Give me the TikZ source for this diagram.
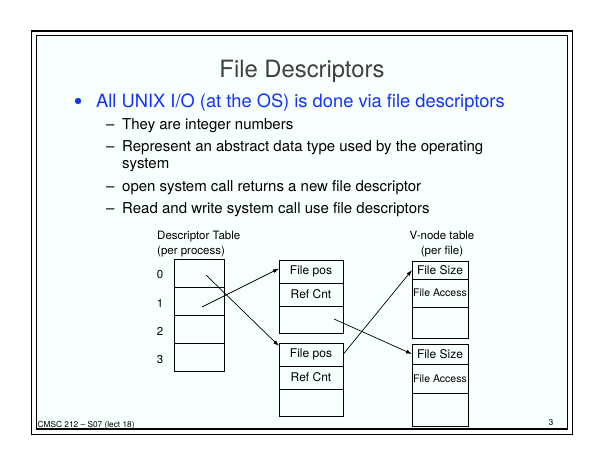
\documentclass[tikz,border=0pt]{standalone}
\usepackage{fontspec}
\setmainfont{TeX Gyre Heros}
\usetikzlibrary{positioning,arrows.meta}
\definecolor{slidebg}{RGB}{248,255,255}
\definecolor{bulletblue}{RGB}{20,50,255}
\definecolor{titlegray}{RGB}{64,64,64}
\newcommand{\fs}[1]{\fontsize{#1}{1.2\dimexpr#1pt\relax}\selectfont}

\begin{document}
\begin{tikzpicture}[x=1pt,y=-1pt,
	cell/.style={draw, line width=0.8pt, inner sep=0pt, outer sep=0pt, font=\fs{12}},
	dcell/.style={cell, minimum width=50, minimum height=28},
	fcell/.style={cell, minimum width=64},
	vcell/.style={cell, minimum width=56},
	ptr/.style={-{Latex[length=6pt,width=4pt]}, line width=0.7pt},
	sub/.style={anchor=base west, inner sep=0pt, font=\fs{15}}]
	\useasboundingbox (0,0) rectangle (605,467);
	% slide frame
	\fill[slidebg] (36.5,35.5) rectangle (567.5,429);
	\draw[line width=1.3pt] (31.5,31) rectangle (572.5,434.5);
	\draw[line width=1.3pt] (36.5,35.5) rectangle (567.5,429);
	% title and text
	\node[titlegray, font=\fs{23.8}, anchor=base] (title) at (302,77) {File Descriptors};
	\fill[bulletblue] (78,101) circle (3.2);
	\node[bulletblue, anchor=base west, inner sep=0pt, font=\fs{18.3}] (main) at (96,107) {All UNIX I/O (at the OS) is done via file descriptors};
	\node[sub] (dash1) at (106,129.5) {--};
	\node[sub] (t1) at (122,129.5) {They are integer numbers};
	\node[sub] (dash2) at (106,151.5) {--};
	\node[sub] (t2) at (122,151.5) {Represent an abstract data type used by the operating};
	\node[sub] (t2b) at (122,168.5) {system};
	\node[sub] (dash3) at (106,191.5) {--};
	\node[sub] (t3) at (122,191.5) {open system call returns a new file descriptor};
	\node[sub] (dash4) at (106,213.5) {--};
	\node[sub] (t4) at (122,213.5) {Read and write system call use file descriptors};
	% descriptor table
	\node[anchor=base west, inner sep=0pt, font=\fs{11.5}] (dtitle) at (157,239.5) {Descriptor Table};
	\node[anchor=base west, inner sep=0pt, font=\fs{11.5}] (dsub) at (157,254) {(per process)};
	\node[dcell] (d0) at (199,273) {};
	\node[dcell, below=0pt of d0] (d1) {};
	\node[dcell, below=0pt of d1] (d2) {};
	\node[dcell, below=0pt of d2] (d3) {};
	\foreach \i in {0,...,3}
		\node[font=\fs{11.5}] (n\i) at ([xshift=-39pt, yshift=-2pt]d\i.center) {\i};
	% file tables
	\node[fcell, minimum height=23] (fa1) at (311,271.5) {File pos};
	\node[fcell, minimum height=23, below=0pt of fa1] (fa2) {Ref Cnt};
	\node[fcell, minimum height=27, below=0pt of fa2] (fa3) {};
	\node[fcell, minimum height=23] (fb1) at (311,354.5) {File pos};
	\node[fcell, minimum height=23, below=0pt of fb1] (fb2) {Ref Cnt};
	\node[fcell, minimum height=27, below=0pt of fb2] (fb3) {};
	% v-node tables
	\node[anchor=base, inner sep=0pt, font=\fs{11.5}] (vtitle) at (442,239.5) {V-node table};
	\node[anchor=base, inner sep=0pt, font=\fs{11.5}] (vsub) at (442,254) {(per file)};
	\node[vcell, minimum height=18] (va1) at (440,270) {File Size};
	\node[vcell, minimum height=28, below=0pt of va1, font=\fs{10.5}] (va2) {File Access};
	\node[vcell, minimum height=31, below=0pt of va2] (va3) {};
	\node[vcell, minimum height=20] (vb1) at (440,354) {File Size};
	\node[vcell, minimum height=29, below=0pt of vb1, font=\fs{10.5}] (vb2) {File Access};
	\node[vcell, minimum height=33, below=0pt of vb2] (vb3) {};
	% pointers
	\coordinate (s0) at (206,275);
	\coordinate (s1) at (202,307);
	\coordinate (s2) at (334,319);
	\draw[ptr] (s0) -- ([yshift=-3pt]fb1.north west);
	\draw[ptr] (s1) -- ([yshift=3pt]fa1.west);
	\draw[ptr] (s2) -- (vb1.west);
	\draw[ptr] (fb1.east) -- (va1.west);
	% footer
	\node[anchor=base west, inner sep=0pt, font=\fs{8.3}] (foot) at (37.5,427.5) {CMSC 212 -- S07 (lect 18)};
	\node[anchor=base, inner sep=0pt, font=\fs{8.5}] (page) at (551,425.5) {3};
\end{tikzpicture}
\end{document}
